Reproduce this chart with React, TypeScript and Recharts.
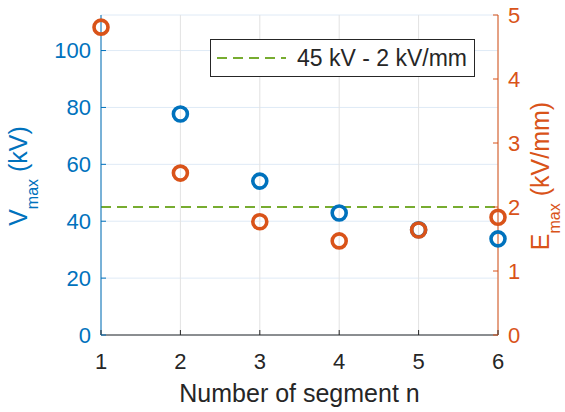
import React from 'react';
import {
  ComposedChart, Scatter, XAxis, YAxis, CartesianGrid, ReferenceLine, Legend, Label,
} from 'recharts';

const segments = [1, 2, 3, 4, 5, 6];
// V_max in kV (n = 1 is above the axis limit and not visible)
const vmax = [null, 77.7, 54.1, 42.9, 37, 33.8];
// E_max in kV/mm
const emax = [4.81, 2.53, 1.77, 1.47, 1.64, 1.84];
const vTicks = [0, 20, 40, 60, 80, 100];
const eTicks = [0, 1, 2, 3, 4, 5];
const limitKV = 45;
const legendText = '45 kV - 2 kV/mm';

const BLUE = '#0072BD';
const ORANGE = '#D95319';
const GREEN = '#77AC30';
const DARK = '#262626';
const FONT = '"Liberation Sans", Arial, sans-serif';

const vData = segments
  .map((n, i) => ({ n, v: vmax[i] }))
  .filter(d => d.v !== null);
const eData = segments.map((n, i) => ({ n, e: emax[i] }));

const ring = (color: string) => (props: any) => (
  <circle cx={props.cx} cy={props.cy} r={7} fill="none" stroke={color} strokeWidth={3.6} />
);

const LeftTick = ({ x, y, payload }: any) => (
  <g>
    <line x1={x + 10} x2={x + 15} y1={y} y2={y} stroke={BLUE} />
    <text x={x} y={y} dy="0.36em" textAnchor="end" fill={BLUE} fontSize={22} fontFamily={FONT}>
      {payload.value}
    </text>
  </g>
);

const RightTick = ({ x, y, payload }: any) => (
  <g>
    <line x1={x - 10} x2={x - 15} y1={y} y2={y} stroke={ORANGE} />
    <text x={x} y={y} dy="0.36em" textAnchor="start" fill={ORANGE} fontSize={22} fontFamily={FONT}>
      {payload.value}
    </text>
  </g>
);

const BottomTick = ({ x, y, payload }: any) => (
  <g>
    <line x1={x} x2={x} y1={y - 18} y2={y - 23} stroke={DARK} />
    <text x={x} y={y} dy="0.71em" textAnchor="middle" fill={DARK} fontSize={22} fontFamily={FONT}>
      {payload.value}
    </text>
  </g>
);

const YLabel = (sym: string, unit: string, color: string, cx: number) => ({ viewBox }: any) => {
  const cy = viewBox.y + viewBox.height / 2 + 1;
  return (
    <text
      x={cx}
      y={cy}
      transform={`rotate(-90 ${cx} ${cy})`}
      textAnchor="middle"
      fill={color}
      fontSize={25}
      fontFamily={FONT}
    >
      {sym}
      <tspan fontSize={16} dy={11}>max</tspan>
      <tspan dy={-11}>{` (${unit})`}</tspan>
    </text>
  );
};

const LegendBox = () => (
  <div
    style={{
      width: 265, height: 38, boxSizing: 'border-box', border: `1px solid ${DARK}`,
      background: '#fff', display: 'flex', alignItems: 'center',
      fontFamily: FONT, fontSize: 23, color: DARK,
    }}
  >
    <svg width={86} height={20}>
      <line x1={6} x2={75} y1={10} y2={10} stroke={GREEN} strokeWidth={2} strokeDasharray="10 6" />
    </svg>
    <span>{legendText}</span>
  </div>
);

export default function App() {
  return (
    <div style={{ position: 'absolute', left: 0, top: 0, background: '#fff' }}>
      <ComposedChart
        width={565}
        height={412}
        margin={{ top: 15, right: 7, bottom: 17, left: 41 }}
      >
        <CartesianGrid yAxisId="left" vertical={false} stroke="#dfeaf6" />
        <CartesianGrid yAxisId="left" horizontal={false} stroke="#e2e2e2" />
        <XAxis
          dataKey="n"
          type="number"
          domain={[1, 6]}
          ticks={segments}
          height={60}
          tickSize={0}
          tickMargin={18}
          tickLine={false}
          axisLine={{ stroke: DARK }}
          tick={<BottomTick />}
        >
          <Label
            content={({ viewBox }: any) => (
              <text
                x={viewBox.x + viewBox.width / 2}
                y={viewBox.y + 67}
                textAnchor="middle"
                fill={DARK}
                fontSize={25}
                fontFamily={FONT}
              >
                Number of segment n
              </text>
            )}
          />
        </XAxis>
        <YAxis
          yAxisId="left"
          type="number"
          domain={[0, 112.5]}
          ticks={vTicks}
          width={60}
          allowDataOverflow
          tickSize={0}
          tickMargin={10}
          tickLine={false}
          axisLine={{ stroke: BLUE }}
          tick={<LeftTick />}
        >
          <Label content={YLabel('V', 'kV', BLUE, 27)} />
        </YAxis>
        <YAxis
          yAxisId="right"
          orientation="right"
          type="number"
          domain={[0, 5]}
          ticks={eTicks}
          width={60}
          allowDataOverflow
          tickSize={0}
          tickMargin={10}
          tickLine={false}
          axisLine={{ stroke: ORANGE }}
          tick={<RightTick />}
        >
          <Label content={YLabel('E', 'kV/mm', ORANGE, 549)} />
        </YAxis>
        <Scatter
          yAxisId="left"
          data={vData}
          dataKey="v"
          shape={ring(BLUE)}
          isAnimationActive={false}
        />
        <Scatter
          yAxisId="right"
          data={eData}
          dataKey="e"
          shape={ring(ORANGE)}
          isAnimationActive={false}
        />
        <ReferenceLine
          yAxisId="left"
          y={limitKV}
          stroke={GREEN}
          strokeWidth={2}
          strokeDasharray="10 6"
        />
        <Legend
          layout="horizontal"
          verticalAlign="middle"
          align="center"
          content={() => <LegendBox />}
          wrapperStyle={{ left: 210, top: 39, width: 265, height: 38 }}
        />
      </ComposedChart>
    </div>
  );
}
